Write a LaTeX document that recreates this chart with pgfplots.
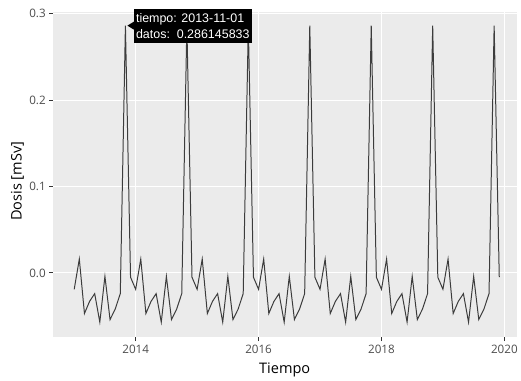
\documentclass[border=0pt]{standalone}
\usepackage{pgfplots}
\pgfplotsset{compat=1.18}
\usepackage{fontspec}
\setmainfont{Open Sans}
\newfontfamily\tipfont{Liberation Sans}
\definecolor{panelbg}{RGB}{235,235,235}
\definecolor{ticklab}{RGB}{77,77,77}
\definecolor{linec}{RGB}{51,51,51}
\definecolor{datac}{RGB}{60,60,60}
\begin{document}
\begin{tikzpicture}
\begin{axis}[
  scale only axis, width=466bp, height=327bp,
  xmin=2012.651, xmax=2020.199, ymin=-0.0747, ymax=0.302,
  axis background/.style={fill=panelbg},
  axis line style={draw=none},
  grid=major, major grid style={white, line width=1.1bp},
  tick pos=left, tick align=outside, major tick length=3.6bp,
  tick style={color=linec, line width=0.9bp},
  xtick={2014,2016,2018,2020}, xticklabels={2014,2016,2018,2020},
  ytick={0,0.1,0.2,0.3}, yticklabels={0.0,0.1,0.2,0.3},
  ticklabel style={font=\fontsize{11.69bp}{14bp}\selectfont, text=ticklab},
  xticklabel style={yshift=-1bp},
  xlabel={Tiempo}, ylabel={Dosis [mSv]},
  label style={font=\fontsize{14.6bp}{17bp}\selectfont, text=black},
  xlabel style={at={(axis description cs:0.5,-0.1)}, anchor=center},
  ylabel style={at={(axis description cs:-0.0762,0.48)}, anchor=center},
]
\addplot[color=datac, line width=1bp, mark=none] table {
x y
2013.0000 -0.019
2013.0833 0.016
2013.1667 -0.047
2013.2500 -0.033
2013.3333 -0.024
2013.4167 -0.057
2013.5000 -0.004
2013.5833 -0.054
2013.6667 -0.042
2013.7500 -0.024
2013.8333 0.286145833
2013.9167 -0.005
2014.0000 -0.019
2014.0833 0.016
2014.1667 -0.047
2014.2500 -0.033
2014.3333 -0.024
2014.4167 -0.057
2014.5000 -0.004
2014.5833 -0.054
2014.6667 -0.042
2014.7500 -0.024
2014.8333 0.286145833
2014.9167 -0.005
2015.0000 -0.019
2015.0833 0.016
2015.1667 -0.047
2015.2500 -0.033
2015.3333 -0.024
2015.4167 -0.057
2015.5000 -0.004
2015.5833 -0.054
2015.6667 -0.042
2015.7500 -0.024
2015.8333 0.286145833
2015.9167 -0.005
2016.0000 -0.019
2016.0833 0.016
2016.1667 -0.047
2016.2500 -0.033
2016.3333 -0.024
2016.4167 -0.057
2016.5000 -0.004
2016.5833 -0.054
2016.6667 -0.042
2016.7500 -0.024
2016.8333 0.286145833
2016.9167 -0.005
2017.0000 -0.019
2017.0833 0.016
2017.1667 -0.047
2017.2500 -0.033
2017.3333 -0.024
2017.4167 -0.057
2017.5000 -0.004
2017.5833 -0.054
2017.6667 -0.042
2017.7500 -0.024
2017.8333 0.286145833
2017.9167 -0.005
2018.0000 -0.019
2018.0833 0.016
2018.1667 -0.047
2018.2500 -0.033
2018.3333 -0.024
2018.4167 -0.057
2018.5000 -0.004
2018.5833 -0.054
2018.6667 -0.042
2018.7500 -0.024
2018.8333 0.286145833
2018.9167 -0.005
2019.0000 -0.019
2019.0833 0.016
2019.1667 -0.047
2019.2500 -0.033
2019.3333 -0.024
2019.4167 -0.057
2019.5000 -0.004
2019.5833 -0.054
2019.6667 -0.042
2019.7500 -0.024
2019.8333 0.286145833
2019.9167 -0.005
};
\coordinate (pk) at (axis cs:2013.8333,0.286145833);
\coordinate (sw) at (rel axis cs:0,0);
\coordinate (ne) at (rel axis cs:1,1);
\end{axis}
\fill[black] ([xshift=2bp]pk) -- ++(6.5bp,4bp) -- ++(0,-8bp) -- cycle;
\node[fill=black, text=white, anchor=west, inner xsep=2.5bp, inner ysep=4.5bp,
  align=left, font=\tipfont\fontsize{12.5bp}{16bp}\selectfont]
  at ([xshift=8bp]pk) {tiempo: 2013-11-01\\datos:\ \ 0.286145833};
\path ([shift={(-53bp,-42bp)}]sw) rectangle ([shift={(2bp,12bp)}]ne);
\end{tikzpicture}
\end{document}
